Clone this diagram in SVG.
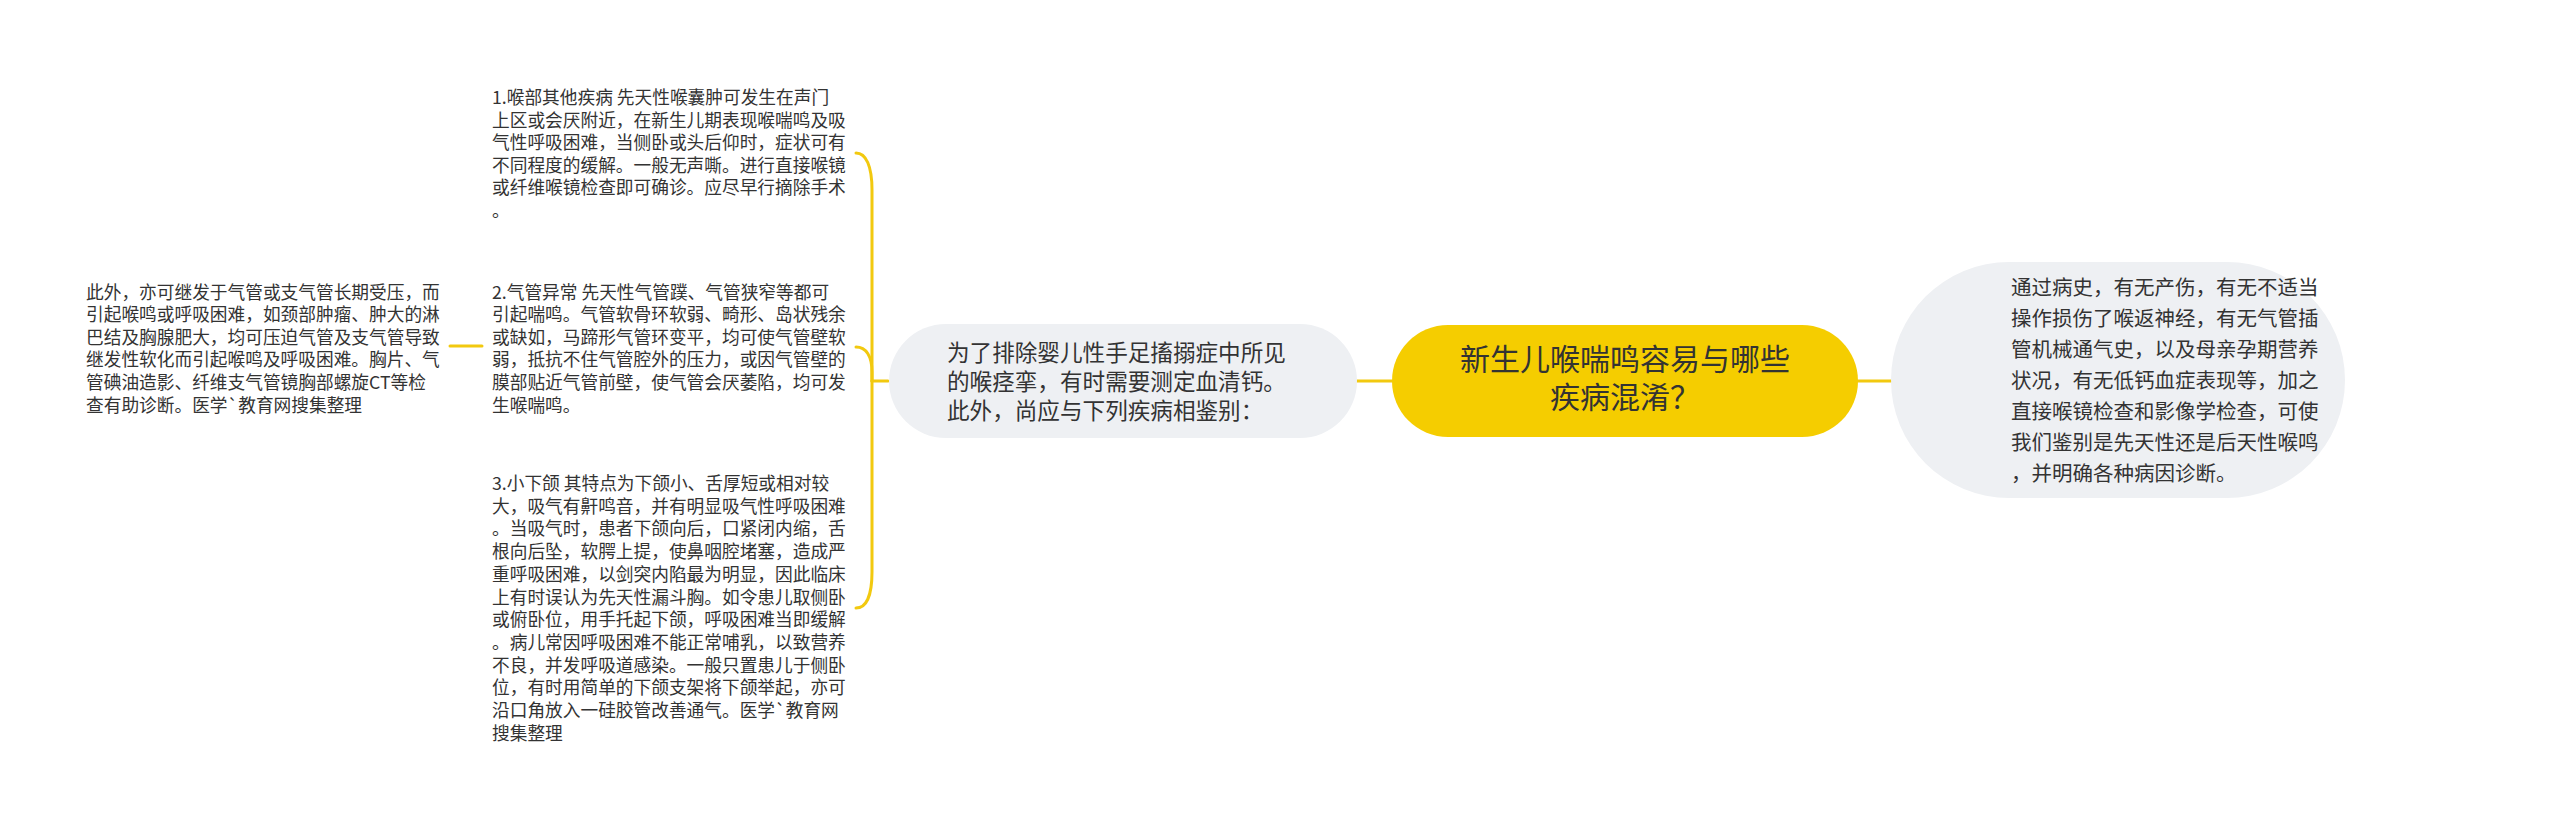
<svg xmlns="http://www.w3.org/2000/svg" width="2560" height="831" viewBox="0 0 2560 831">
<style>
.t{font-family:"Noto Sans CJK SC","Noto Sans",sans-serif;fill:#333333}
.s{font-size:17.7px}
.m{font-size:22.6px}
.r{font-size:20.5px}
.c{font-size:30px;text-anchor:middle}
.gray{fill:#EEF0F3}
.conn{fill:none;stroke:#F2C90F;stroke-width:3;stroke-linecap:round}
</style>
<rect width="2560" height="831" fill="#FFFFFF"/>
<g id="connectors">
<path class="conn" d="M1357 381 H1392"/>
<path class="conn" d="M1858 381 H1891"/>
<path class="conn" d="M888 381 H872"/>
<path class="conn" d="M872 381 V190 C872 166 866 153 856 153"/>
<path class="conn" d="M872 381 V372 C872 356 866 347 856 347"/>
<path class="conn" d="M872 381 V572 C872 596 866 608 856 608"/>
<path class="conn" d="M450 346 H482"/>
</g>
<g id="center">
<rect x="1392" y="325" width="466" height="112" rx="56" fill="#F5CD00"/>
<text class="t c" x="1625"><tspan x="1625" y="370">新生儿喉喘鸣容易与哪些</tspan><tspan x="1625" y="408">疾病混淆？</tspan></text>
</g>
<g id="left-node">
<rect class="gray" x="889" y="324" width="468" height="114" rx="57"/>
<text class="t m"><tspan x="947" y="360.6">为了排除婴儿性手足搐搦症中所见</tspan><tspan x="947" y="389.6">的喉痉挛，有时需要测定血清钙。</tspan><tspan x="947" y="418.6">此外，尚应与下列疾病相鉴别：</tspan></text>
</g>
<g id="right-node">
<rect class="gray" x="1891" y="262" width="454" height="236" rx="118"/>
<text class="t r"><tspan x="2011" y="295">通过病史，有无产伤，有无不适当</tspan><tspan x="2011" y="326">操作损伤了喉返神经，有无气管插</tspan><tspan x="2011" y="357">管机械通气史，以及母亲孕期营养</tspan><tspan x="2011" y="388">状况，有无低钙血症表现等，加之</tspan><tspan x="2011" y="419">直接喉镜检查和影像学检查，可使</tspan><tspan x="2011" y="450">我们鉴别是先天性还是后天性喉鸣</tspan><tspan x="2011" y="481">，并明确各种病因诊断。</tspan></text>
</g>
<g id="item1">
<text class="t s"><tspan x="492" y="104">1.喉部其他疾病 先天性喉囊肿可发生在声门</tspan><tspan x="492" y="126.6">上区或会厌附近，在新生儿期表现喉喘鸣及吸</tspan><tspan x="492" y="149.2">气性呼吸困难，当侧卧或头后仰时，症状可有</tspan><tspan x="492" y="171.8">不同程度的缓解。一般无声嘶。进行直接喉镜</tspan><tspan x="492" y="194.4">或纤维喉镜检查即可确诊。应尽早行摘除手术</tspan><tspan x="492" y="217">。</tspan></text>
</g>
<g id="item2">
<text class="t s"><tspan x="492" y="298.5">2.气管异常 先天性气管蹼、气管狭窄等都可</tspan><tspan x="492" y="321.1">引起喘鸣。气管软骨环软弱、畸形、岛状残余</tspan><tspan x="492" y="343.7">或缺如，马蹄形气管环变平，均可使气管壁软</tspan><tspan x="492" y="366.3">弱，抵抗不住气管腔外的压力，或因气管壁的</tspan><tspan x="492" y="388.9">膜部贴近气管前壁，使气管会厌萎陷，均可发</tspan><tspan x="492" y="411.5">生喉喘鸣。</tspan></text>
</g>
<g id="item3">
<text class="t s"><tspan x="492" y="490">3.小下颌 其特点为下颌小、舌厚短或相对较</tspan><tspan x="492" y="512.7">大，吸气有鼾鸣音，并有明显吸气性呼吸困难</tspan><tspan x="492" y="535.4">。当吸气时，患者下颌向后，口紧闭内缩，舌</tspan><tspan x="492" y="558.1">根向后坠，软腭上提，使鼻咽腔堵塞，造成严</tspan><tspan x="492" y="580.8">重呼吸困难，以剑突内陷最为明显，因此临床</tspan><tspan x="492" y="603.5">上有时误认为先天性漏斗胸。如令患儿取侧卧</tspan><tspan x="492" y="626.2">或俯卧位，用手托起下颌，呼吸困难当即缓解</tspan><tspan x="492" y="648.9">。病儿常因呼吸困难不能正常哺乳，以致营养</tspan><tspan x="492" y="671.6">不良，并发呼吸道感染。一般只置患儿于侧卧</tspan><tspan x="492" y="694.3">位，有时用简单的下颌支架将下颌举起，亦可</tspan><tspan x="492" y="717">沿口角放入一硅胶管改善通气。医学`教育网</tspan><tspan x="492" y="739.7">搜集整理</tspan></text>
</g>
<g id="left-text">
<text class="t s"><tspan x="86" y="298.5">此外，亦可继发于气管或支气管长期受压，而</tspan><tspan x="86" y="321.1">引起喉鸣或呼吸困难，如颈部肿瘤、肿大的淋</tspan><tspan x="86" y="343.7">巴结及胸腺肥大，均可压迫气管及支气管导致</tspan><tspan x="86" y="366.3">继发性软化而引起喉鸣及呼吸困难。胸片、气</tspan><tspan x="86" y="388.9">管碘油造影、纤维支气管镜胸部螺旋CT等检</tspan><tspan x="86" y="411.5">查有助诊断。医学`教育网搜集整理</tspan></text>
</g>
</svg>
